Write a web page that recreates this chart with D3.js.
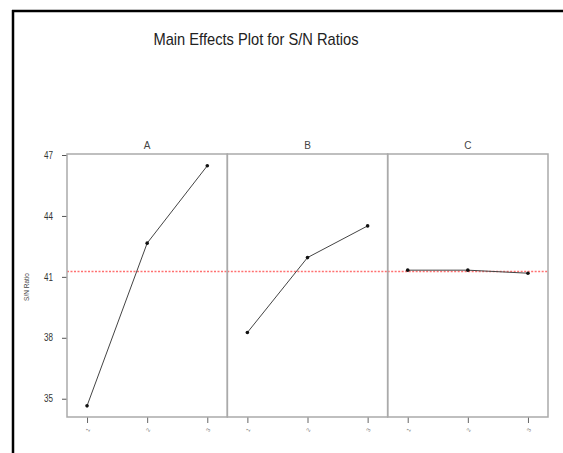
<!DOCTYPE html>
<html><head><meta charset="utf-8">
<script src="https://cdn.jsdelivr.net/npm/d3@7"></script>
<style>body{margin:0;background:#fff}svg{display:block}</style>
</head><body>
<svg id="c" width="563" height="453"></svg>
<script>
const factors = ["A", "B", "C"];
const levels = [1, 2, 3];
const snA = [34.65, 42.66, 46.47];
const snB = [38.26, 41.95, 43.51];
const snC = [41.33, 41.33, 41.18];
const yTicks = [35, 38, 41, 44, 47];
const title = "Main Effects Plot for S/N Ratios";
const yLabel = "S/N Ratio";

const series = [snA, snB, snC];
const grandMean = d3.mean(series.flat());

const svg = d3.select("#c");
const pLeft = 67, pRight = 548, pTop = 154, pBottom = 417;
const pw = (pRight - pLeft) / factors.length;

// outer black border (left + top)
svg.append("line").attr("x1", 13).attr("x2", 13).attr("y1", 10).attr("y2", 453)
  .attr("stroke", "#000").attr("stroke-width", 2.5);
svg.append("line").attr("x1", 12).attr("x2", 563).attr("y1", 11).attr("y2", 11)
  .attr("stroke", "#000").attr("stroke-width", 2.5);

svg.append("text").attr("x", 256).attr("y", 45).attr("text-anchor", "middle")
  .attr("font-family", "Liberation Sans, Arial, sans-serif")
  .attr("font-size", 17).attr("fill", "#222")
  .attr("textLength", 205).attr("lengthAdjust", "spacingAndGlyphs").text(title);

const y = d3.scaleLinear().domain([34.1, 47.05]).range([pBottom, pTop]);

const yAxis = svg.append("g").attr("transform", `translate(${pLeft},0)`)
  .call(d3.axisLeft(y).tickValues(yTicks).tickSize(5).tickPadding(9).tickFormat(d3.format("d")));
yAxis.select(".domain").remove();
yAxis.selectAll("line").attr("stroke", "#555");
yAxis.selectAll("text").attr("font-family", "Liberation Sans, sans-serif")
  .attr("font-size", 10).attr("fill", "#333")
  .attr("textLength", 9).attr("lengthAdjust", "spacingAndGlyphs");

svg.append("text").attr("transform", `translate(29,287) rotate(-90)`).attr("text-anchor", "middle")
  .attr("font-family", "Liberation Sans, sans-serif").attr("font-size", 6.5).attr("fill", "#444").text(yLabel);

factors.forEach((f, i) => {
  const x0 = pLeft + i * pw;
  const x = d3.scaleLinear().domain([2/3, 10/3]).range([x0, x0 + pw]);
  const g = svg.append("g");
  g.append("text").attr("x", x0 + pw / 2).attr("y", 149).attr("text-anchor", "middle")
    .attr("font-family", "Liberation Sans, sans-serif").attr("font-size", 10).attr("fill", "#444").text(f);
  const xa = g.append("g").attr("transform", `translate(0,${pBottom})`)
    .call(d3.axisBottom(x).tickValues(levels).tickSize(6).tickFormat(""));
  xa.select(".domain").remove();
  xa.selectAll("line").attr("stroke", "#666");
  xa.selectAll(".tick").append("text")
    .attr("transform", "translate(2,14) rotate(-60)")
    .attr("text-anchor", "middle").attr("font-family", "Liberation Sans, sans-serif")
    .attr("font-size", 5.5).attr("fill", "#777").text(d => d);
  g.append("line").attr("x1", x0).attr("x2", x0 + pw).attr("y1", y(grandMean)).attr("y2", y(grandMean))
    .attr("stroke", "#ff7070").attr("stroke-width", 1.5).attr("stroke-dasharray", "2,1.5");
  const pts = levels.map((l, k) => [x(l), y(series[i][k])]);
  g.append("path").attr("d", d3.line()(pts)).attr("fill", "none").attr("stroke", "#444").attr("stroke-width", 1);
  g.selectAll("circle").data(pts).join("circle").attr("cx", d => d[0]).attr("cy", d => d[1]).attr("r", 1.8).attr("fill", "#111");
  g.append("rect").attr("x", x0).attr("y", pTop).attr("width", pw).attr("height", pBottom - pTop)
    .attr("fill", "none").attr("stroke", "#aaa").attr("stroke-width", 1.5);
});
</script>
</body></html>
